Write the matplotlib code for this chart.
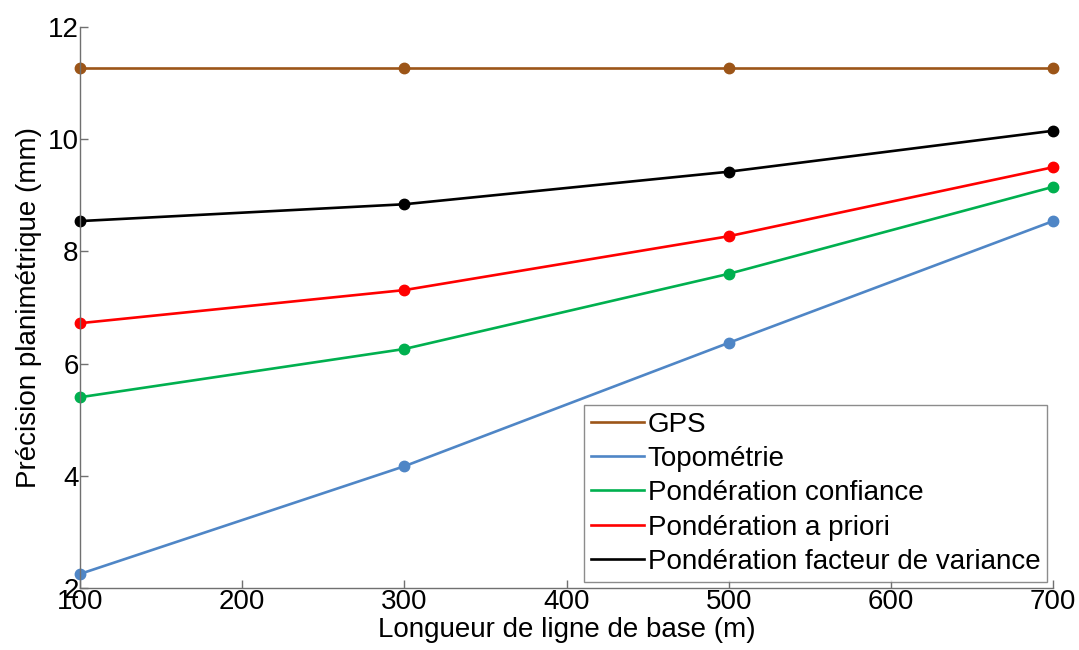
import numpy as np
import matplotlib.pyplot as plt

plt.rcParams['font.family'] = ['Liberation Sans', 'DejaVu Sans']
plt.rcParams['font.size'] = 20

# données
longueur = [100, 300, 500, 700]
gps = [11.27, 11.27, 11.27, 11.27]
topometrie = [2.25, 4.17, 6.37, 8.54]
pond_confiance = [5.40, 6.26, 7.60, 9.15]
pond_priori = [6.72, 7.31, 8.27, 9.50]
pond_variance = [8.54, 8.84, 9.42, 10.15]

series = [
    ('GPS', gps, '#9C5518'),
    ('Topométrie', topometrie, '#4F86C6'),
    ('Pondération confiance', pond_confiance, '#00B04F'),
    ('Pondération a priori', pond_priori, '#FF0000'),
    ('Pondération facteur de variance', pond_variance, '#000000'),
]

fig = plt.figure(figsize=(10.79, 6.5), dpi=100)
ax = fig.add_axes([0.0741, 0.0954, 0.9019, 0.8631])

for label, vals, col in series:
    ax.plot(longueur, vals, color=col, linewidth=1.9, marker='o',
            markersize=7.5, label=label, clip_on=False)

ax.set_xlim(100, 700)
ax.set_ylim(2, 12)
ax.set_xticks(np.arange(100, 701, 100))
ax.set_yticks(np.arange(2, 13, 2))

ax.spines['top'].set_visible(False)
ax.spines['right'].set_visible(False)
for s in ['left', 'bottom']:
    ax.spines[s].set_color('#707070')
    ax.spines[s].set_linewidth(1.0)
ax.tick_params(direction='in', length=6, width=1.0, color='#707070', labelsize=20, pad=1)

ax.set_xlabel('Longueur de ligne de base (m)', labelpad=1)
ax.set_ylabel('Précision planimétrique (mm)', labelpad=4)

leg = ax.legend(loc='lower right', bbox_to_anchor=(0.994, 0.011), borderaxespad=0,
                fancybox=False, edgecolor='#707070', handlelength=1.9,
                handletextpad=0.15, labelspacing=0.3, borderpad=0.25,
                fontsize=20)
for h in leg.get_lines():
    h.set_marker('')
leg.get_frame().set_linewidth(1.0)

fig.savefig('out.png', dpi=100)
